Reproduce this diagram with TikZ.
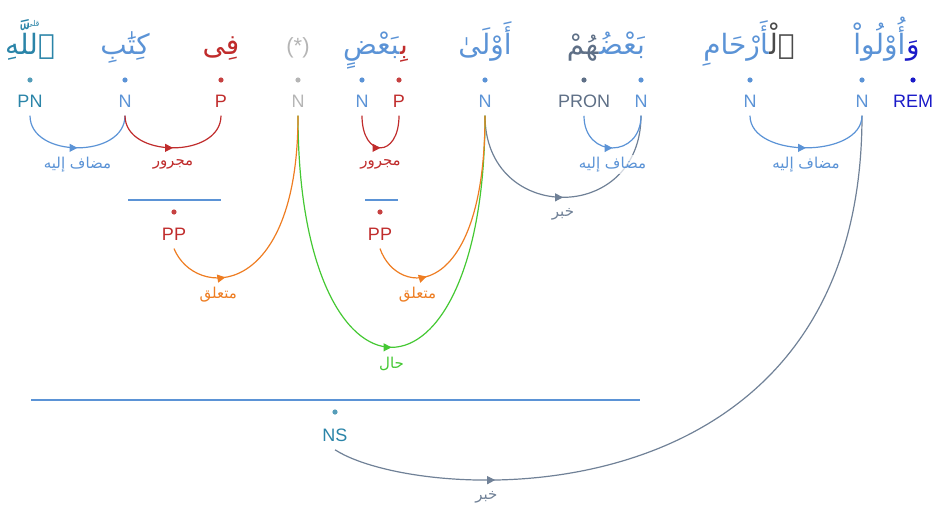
\documentclass[tikz,border=0pt]{standalone}
\usepackage{fontspec}
\setsansfont{Liberation Sans}
\newfontfamily\arabicfont[Script=Arabic]{DejaVu Sans}
\TeXXeTstate=1
\usetikzlibrary{arrows.meta, positioning, calc, decorations.markings}
\definecolor{nounBlue}{HTML}{5B93D6}
\definecolor{pnTeal}{HTML}{2A84A8}
\definecolor{prepRed}{HTML}{C02C2C}
\definecolor{emptyGray}{HTML}{B5B5B5}
\definecolor{pronSlate}{HTML}{5E6F86}
\definecolor{detGray}{HTML}{4A4A4A}
\definecolor{remBlue}{HTML}{1A1AC8}
\definecolor{adjOrange}{HTML}{EE7D22}
\definecolor{halGreen}{HTML}{44C833}
\definecolor{predSlate}{HTML}{708197}
\newcommand\zwj{\char"200D\relax}
\newcommand\artext[1]{\beginR #1\endR}

\begin{document}
\begin{tikzpicture}[x=0.5pt, y=-0.5pt,
    wordbox/.style={font=\arabicfont\fontsize{14}{16}\selectfont, inner sep=0pt, anchor=base},
    tagbox/.style={font=\sffamily\fontsize{9}{11}\selectfont, inner xsep=1pt, inner ysep=4pt},
    posdot/.style={circle, inner sep=0pt, minimum size=2.6pt},
    rel/.style={line width=0.6pt, postaction={decorate}, decoration={markings,
                mark=at position #1 with {\arrow{Triangle[length=4pt,width=4pt]}}}},
    rel/.default=0.5,
    rlab/.style={font=\arabicfont\fontsize{7.5}{9}\selectfont, pos=0.5, yshift=-8.5pt,
                 fill=white, fill opacity=0.7, text opacity=1, inner sep=1pt},
    spanbar/.style={line width=0.6pt, nounBlue}
  ]
  \useasboundingbox (0,0) rectangle (933,509);

  % words
  \node[wordbox, pnTeal] (wAllah) at (30,54) {\artext{ٱللَّهِ}};
  \node[pnTeal, font=\arabicfont\fontsize{4}{4}\selectfont, inner sep=0pt] (wStop) at (33,24) {\artext{قلى}};
  \node[wordbox, nounBlue] (wKitab) at (125,54) {\artext{كِتَٰبِ}};
  \node[wordbox, prepRed] (wFi) at (221,54) {\artext{فِى}};
  \node[wordbox, emptyGray, font=\sffamily\fontsize{11}{13}\selectfont] (wStar) at (298,53) {(*)};
  \node[wordbox, prepRed] (wBi) at (404,54) {\artext{بِ\zwj}};
  \node[wordbox, nounBlue, base left=0pt of wBi] (wBad) {\artext{\zwj بَعْضٍ}};
  \node[wordbox, nounBlue] (wAwla) at (485,54) {\artext{أَوْلَىٰ}};
  \node[wordbox, nounBlue] (wBadu) at (622,54) {\artext{بَعْضُ\zwj}};
  \node[wordbox, pronSlate, base left=0pt of wBadu] (wHum) {\artext{\zwj هُمْ}};
  \node[wordbox, detGray] (wAl) at (782,54) {\artext{ٱلْ\zwj}};
  \node[wordbox, nounBlue, base left=0pt of wAl] (wArham) {\artext{\zwj أَرْحَامِ}};
  \node[wordbox, remBlue] (wWa) at (913,54) {\artext{وَ}};
  \node[wordbox, nounBlue, base left=0pt of wWa] (wUlu) {\artext{أُوْلُواْ}};

  % dots
  \node[posdot, fill=pnTeal!80!white] (dAllah) at (30,80) {};
  \node[posdot, fill=nounBlue] (dKitab) at (125,80) {};
  \node[posdot, fill=prepRed!90!white] (dFi) at (221,80) {};
  \node[posdot, fill=emptyGray] (dStar) at (298,80) {};
  \node[posdot, fill=nounBlue] (dBad) at (362,80) {};
  \node[posdot, fill=prepRed!90!white] (dBi) at (399,80) {};
  \node[posdot, fill=nounBlue] (dAwla) at (485,80) {};
  \node[posdot, fill=pronSlate] (dHum) at (584,80) {};
  \node[posdot, fill=nounBlue] (dBadu) at (641,80) {};
  \node[posdot, fill=nounBlue] (dArham) at (750,80) {};
  \node[posdot, fill=nounBlue] (dUlu) at (862,80) {};
  \node[posdot, fill=remBlue] (dWa) at (913,80) {};

  % tags
  \node[tagbox, pnTeal] (allah) at (30,101) {PN};
  \node[tagbox, nounBlue] (kitab) at (125,101) {N};
  \node[tagbox, prepRed] (fi) at (221,101) {P};
  \node[tagbox, emptyGray] (star) at (298,101) {N};
  \node[tagbox, nounBlue] (bad) at (362,101) {N};
  \node[tagbox, prepRed] (bi) at (399,101) {P};
  \node[tagbox, nounBlue] (awla) at (485,101) {N};
  \node[tagbox, pronSlate] (hum) at (584,101) {PRON};
  \node[tagbox, nounBlue] (badu) at (641,101) {N};
  \node[tagbox, nounBlue] (arham) at (750,101) {N};
  \node[tagbox, nounBlue] (ulu) at (862,101) {N};
  \node[tagbox, remBlue] (wa) at (913,101) {REM};

  % phrases
  \draw[spanbar] (128,200) -- (221,200);
  \node[posdot, fill=prepRed!90!white] (dPP1) at (174,212) {};
  \node[tagbox, prepRed] (pp1) at (174,234) {PP};
  \draw[spanbar] (365,200) -- (398,200);
  \node[posdot, fill=prepRed!90!white] (dPP2) at (380,212) {};
  \node[tagbox, prepRed] (pp2) at (380,234) {PP};
  \draw[spanbar] (31,400) -- (640,400);
  \node[posdot, fill=pnTeal!80!white] (dNS) at (335,412) {};
  \node[tagbox, pnTeal] (ns) at (335,435) {NS};

  % relations
  \draw[rel, predSlate] (awla.south) .. controls ($(awla.south)+(0,109)$) and ($(badu.south)+(0,109)$) .. (badu.south)
    node[rlab] (lKhabar1) {\artext{خبر}};
  \draw[rel=0.22, predSlate] (ns.south) .. controls ($(ns.south)+(85,55)$) and ($(ulu.south)+(0,414)$) .. (ulu.south)
    node[rlab, pos=0.3] (lKhabar2) {\artext{خبر}};
  \draw[rel, halGreen] (star.south) .. controls ($(star.south)+(0,309)$) and ($(awla.south)+(0,309)$) .. (awla.south)
    node[rlab] (lHal) {\artext{حال}};
  \draw[rel=0.25, adjOrange] (pp1.south) .. controls ($(pp1.south)+(21,51)$) and ($(star.south)+(0,185)$) .. (star.south)
    node[rlab, pos=0.35] (lMut1) {\artext{متعلق}};
  \draw[rel=0.25, adjOrange] (pp2.south) .. controls ($(pp2.south)+(18,51)$) and ($(awla.south)+(0,185)$) .. (awla.south)
    node[rlab, pos=0.35] (lMut2) {\artext{متعلق}};
  \draw[rel, nounBlue] (allah.south) .. controls ($(allah.south)+(0,43)$) and ($(kitab.south)+(0,43)$) .. (kitab.south)
    node[rlab] (lMudaf1) {\artext{مضاف إليه}};
  \draw[rel, prepRed] (kitab.south) .. controls ($(kitab.south)+(0,43)$) and ($(fi.south)+(0,43)$) .. (fi.south)
    node[rlab] (lMajrur1) {\artext{مجرور}};
  \draw[rel, prepRed] (bad.south) .. controls ($(bad.south)+(0,43)$) and ($(bi.south)+(0,43)$) .. (bi.south)
    node[rlab] (lMajrur2) {\artext{مجرور}};
  \draw[rel, nounBlue] (hum.south) .. controls ($(hum.south)+(0,43)$) and ($(badu.south)+(0,43)$) .. (badu.south)
    node[rlab] (lMudaf2) {\artext{مضاف إليه}};
  \draw[rel, nounBlue] (arham.south) .. controls ($(arham.south)+(0,43)$) and ($(ulu.south)+(0,43)$) .. (ulu.south)
    node[rlab] (lMudaf3) {\artext{مضاف إليه}};
\end{tikzpicture}
\end{document}
